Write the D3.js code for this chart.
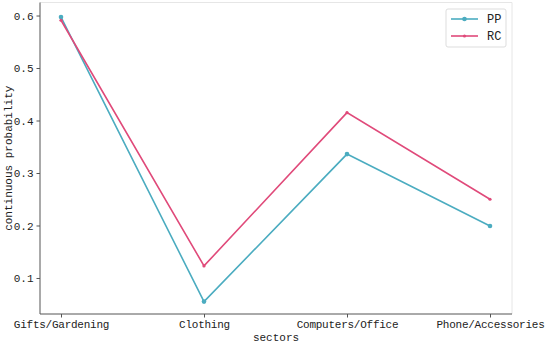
<!DOCTYPE html>
<html>
<head>
<meta charset="utf-8">
<script src="https://cdn.jsdelivr.net/npm/d3@7"></script>
<style>
  body { margin: 0; background: #fff; }
  text { font-family: "Liberation Mono", "DejaVu Sans Mono", monospace; fill: #222; }
</style>
</head>
<body>
<div id="chart"></div>
<script>
// chart data
var sectors = ["Gifts/Gardening", "Clothing", "Computers/Office", "Phone/Accessories"];
var ppValues = [0.597, 0.055, 0.336, 0.199];
var rcValues = [0.591, 0.123, 0.415, 0.250];
var yTicks = [0.1, 0.2, 0.3, 0.4, 0.5, 0.6];

var width = 545, height = 345;
var margin = {left: 40, right: 33, top: 2.5, bottom: 31};

var svg = d3.select("#chart").append("svg")
    .attr("width", width)
    .attr("height", height);

var x = d3.scalePoint()
    .domain(sectors)
    .range([61, 490]);

var y = d3.scaleLinear()
    .domain([0.0314, 0.6248])
    .range([height - margin.bottom, margin.top]);

// frame: light top/right spines
svg.append("line").attr("x1", margin.left).attr("x2", width - margin.right)
    .attr("y1", margin.top).attr("y2", margin.top).attr("stroke", "#e6e6e6");
svg.append("line").attr("x1", width - margin.right).attr("x2", width - margin.right)
    .attr("y1", margin.top).attr("y2", height - margin.bottom).attr("stroke", "#e6e6e6");

// axes
var xAxis = svg.append("g")
    .attr("transform", "translate(0," + (height - margin.bottom) + ")")
    .call(d3.axisBottom(x).tickSize(3.5).tickPadding(3));
xAxis.select(".domain").attr("d", "M" + margin.left + ",0H" + (width - margin.right)).attr("stroke", "#555");
xAxis.selectAll(".tick line").attr("stroke", "#555");
xAxis.selectAll("text").style("font-size", "11px").style("letter-spacing", "-0.25px").attr("fill", "#222");

var yAxis = svg.append("g")
    .attr("transform", "translate(" + margin.left + ",0)")
    .call(d3.axisLeft(y).tickValues(yTicks).tickFormat(d3.format(".1f")).tickSize(3.5).tickPadding(3));
yAxis.select(".domain").attr("d", "M0," + margin.top + "V" + (height - margin.bottom)).attr("stroke", "#555");
yAxis.selectAll(".tick line").attr("stroke", "#555");
yAxis.selectAll("text").style("font-size", "11px").attr("fill", "#222");

// axis labels
svg.append("text")
    .attr("x", (margin.left + width - margin.right) / 2)
    .attr("y", 341)
    .attr("text-anchor", "middle")
    .style("font-size", "11px")
    .text("sectors");

svg.append("text")
    .attr("transform", "translate(12," + ((margin.top + height - margin.bottom) / 2) + ") rotate(-90)")
    .attr("text-anchor", "middle")
    .style("font-size", "11px")
    .text("continuous probability");

// series
var series = [
    {name: "PP", values: ppValues, color: "#4bacc0", r: 2.3},
    {name: "RC", values: rcValues, color: "#e04a7a", r: 1.6}
];

var line = d3.line()
    .x(function (d, i) { return x(sectors[i]); })
    .y(function (d) { return y(d); });

series.forEach(function (s) {
    svg.append("path")
        .attr("d", line(s.values))
        .attr("fill", "none")
        .attr("stroke", s.color)
        .attr("stroke-width", 1.6);
    svg.selectAll(null)
        .data(s.values)
        .enter()
        .append("circle")
        .attr("cx", function (d, i) { return x(sectors[i]); })
        .attr("cy", function (d) { return y(d); })
        .attr("r", s.r)
        .attr("fill", s.color);
});

// legend
var legend = svg.append("g").attr("transform", "translate(446,9)");
legend.append("rect")
    .attr("width", 60).attr("height", 38).attr("rx", 2)
    .attr("fill", "#fff").attr("stroke", "#ddd");
series.forEach(function (s, i) {
    var g = legend.append("g").attr("transform", "translate(0," + (10 + i * 17) + ")");
    g.append("line").attr("x1", 5).attr("x2", 32).attr("stroke", s.color).attr("stroke-width", 1.6);
    g.append("circle").attr("cx", 18.5).attr("r", s.r).attr("fill", s.color);
    g.append("text").attr("x", 41).attr("y", 4).style("font-size", "12px").text(s.name);
});
</script>
</body>
</html>
